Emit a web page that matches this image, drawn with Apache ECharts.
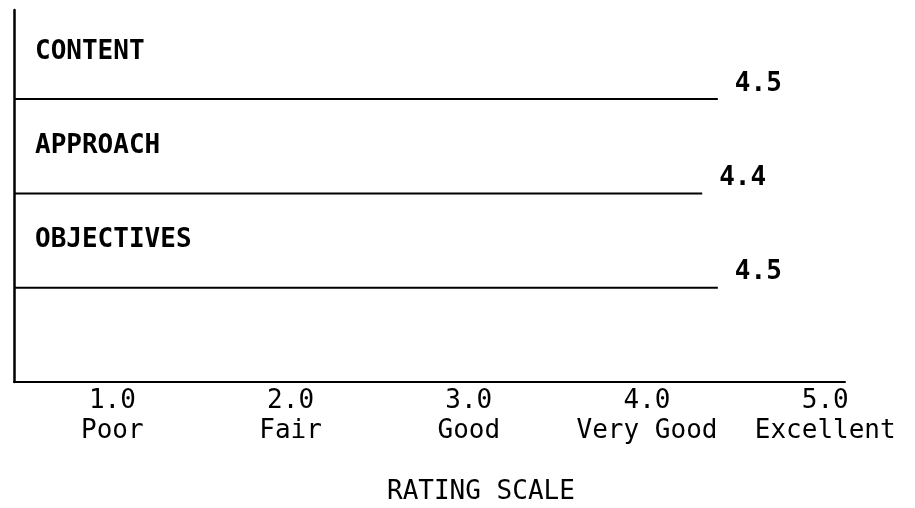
<!DOCTYPE html>
<html>
<head>
<meta charset="utf-8">
<script src="https://cdn.jsdelivr.net/npm/echarts@6/dist/echarts.min.js"></script>
<style>
html,body{margin:0;padding:0;background:#fff;}
#chart{width:915px;height:508px;}
</style>
</head>
<body>
<div id="chart"></div>
<script>
const categories = ['CONTENT', 'APPROACH', 'OBJECTIVES'];
const ratings = [4.5, 4.4, 4.5];
const tickValues = [1, 2, 3, 4, 5];
const tickNames = ['Poor', 'Fair', 'Good', 'Very Good', 'Excellent'];
const axisTitle = 'RATING SCALE';

const FONT = '"DejaVu Sans Mono", monospace';
const n = categories.length;

const series = categories.map((name, i) => {
  const level = n - i;
  return {
    name: name,
    type: 'line',
    xAxisIndex: 0,
    yAxisIndex: 0,
    symbol: 'none',
    lineStyle: { color: '#000', width: 2 },
    data: [[0, level], [ratings[i], level]],
    endLabel: {
      show: true,
      formatter: () => ratings[i].toFixed(1),
      color: '#000',
      fontFamily: FONT,
      fontSize: 26,
      fontWeight: 'bold',
      offset: [9, -15]
    }
  };
});

const labelLevels = categories.map((c, i) => n - i + 0.5);

const option = {
  animation: false,
  backgroundColor: '#fff',
  title: {
    text: axisTitle,
    left: 382,
    top: 474,
    textStyle: { fontFamily: FONT, fontSize: 26, fontWeight: 'normal', color: '#000' }
  },
  grid: { left: 14, right: 70, top: 10, bottom: 126, containLabel: false },
  xAxis: [
    {
      type: 'value',
      min: 0,
      max: 5.313,
      show: false
    },
    {
      type: 'value',
      min: 0.448,
      max: 5.111,
      position: 'bottom',
      axisLine: { show: true, lineStyle: { color: '#000', width: 2 } },
      axisTick: { show: false },
      splitLine: { show: false },
      axisLabel: {
        customValues: tickValues,
        color: '#000',
        fontFamily: FONT,
        fontSize: 26,
        lineHeight: 30,
        margin: 4,
        align: 'center',
        formatter: (v) => {
          const idx = tickValues.indexOf(Math.round(v));
          return v.toFixed(1) + '\n' + (idx >= 0 ? tickNames[idx] : '');
        }
      }
    }
  ],
  yAxis: {
    type: 'value',
    min: 0,
    max: 3.945,
    axisLine: { show: true, lineStyle: { color: '#000', width: 2.5 } },
    axisTick: { show: false },
    splitLine: { show: false },
    axisLabel: {
      inside: true,
      customValues: labelLevels,
      margin: 21,
      color: '#000',
      fontFamily: FONT,
      fontSize: 26,
      fontWeight: 'bold',
      padding: [4, 0, 0, 0],
      formatter: (v) => {
        const idx = labelLevels.findIndex(l => Math.abs(l - v) < 1e-6);
        return idx >= 0 ? categories[idx] : '';
      }
    }
  },
  series: series
};

const chart = echarts.init(document.getElementById('chart'), null, { renderer: 'canvas' });
chart.setOption(option);
</script>
</body>
</html>
